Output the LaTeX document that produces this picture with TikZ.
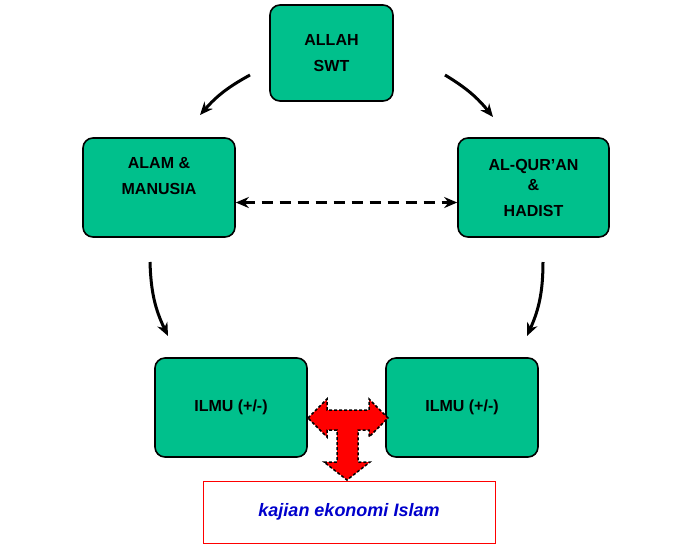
\documentclass[tikz,border=0pt]{standalone}
\usepackage{fontspec}
\setmainfont{Liberation Sans}
\usetikzlibrary{arrows.meta}
\definecolor{tealbox}{RGB}{0,192,140}
\begin{document}
\begin{tikzpicture}[x=1pt,y=-1pt,
  box/.style={draw=black,line width=1.6pt,fill=tealbox,rounded corners=10pt,align=center,font=\bfseries\fontsize{16}{26}\selectfont,inner sep=0pt},
  tip/.style={Stealth[length=13pt,width=11pt]},
  arr/.style={-{Stealth[length=13pt,width=11pt]},line width=3pt}]
\useasboundingbox (0,0) rectangle (695,547);
\node[box,minimum width=123pt,minimum height=96pt] (allah) at (331.5,53) {ALLAH\\SWT};
\node[box,minimum width=152pt,minimum height=99pt] (alam) at (159,187.5) {ALAM \&\\MANUSIA\\[-2pt]};
\node[box,minimum width=151pt,minimum height=99pt] (quran) at (533.5,187.5) {AL-QUR'AN\\[-6pt]\&\\HADIST};
\node[box,minimum width=152pt,minimum height=99pt] (ilmuL) at (231,407.5) {ILMU (+/-)};
\node[box,minimum width=152pt,minimum height=99pt] (ilmuR) at (462,407.5) {ILMU (+/-)};
\node[draw=red,line width=1pt,minimum width=292pt,minimum height=62pt,font=\bfseries\itshape\fontsize{18}{20}\selectfont,text=blue!80!black] (kajian) at (349,512) {kajian ekonomi Islam};
\coordinate (a1) at (250,75); \coordinate (a2) at (200,115);
\coordinate (b1) at (445,75); \coordinate (b2) at (493,117);
\draw[arr] (a1) to[bend right=10] (a2);
\draw[arr] (b1) to[bend left=10] (b2);
\coordinate (e1) at ([yshift=-15pt]alam.east);
\coordinate (e2) at ([yshift=-15pt]quran.west);
\draw[{Stealth[length=13pt,width=11pt]}-{Stealth[length=13pt,width=11pt]},line width=3pt,dash pattern=on 11pt off 7pt] (e1) -- (e2);
\coordinate (c1) at (150,262); \coordinate (c2) at (168,336);
\coordinate (d1) at (543,262); \coordinate (d2) at (527,336);
\draw[arr] (c1) to[bend right=12] (c2);
\draw[arr] (d1) to[bend left=12] (d2);
\draw[fill=red,draw=black,line width=1.5pt,dash pattern=on 3pt off 2pt]
 (308,418) -- (327,399) -- (327,410) -- (369,410) -- (369,399) -- (388,418) -- (369,437) -- (369,430)
 -- (358,430) -- (358,462) -- (370,462) -- (347,480) -- (324,462) -- (337,462) -- (337,430)
 -- (327,430) -- (327,437) -- cycle;
\end{tikzpicture}
\end{document}
